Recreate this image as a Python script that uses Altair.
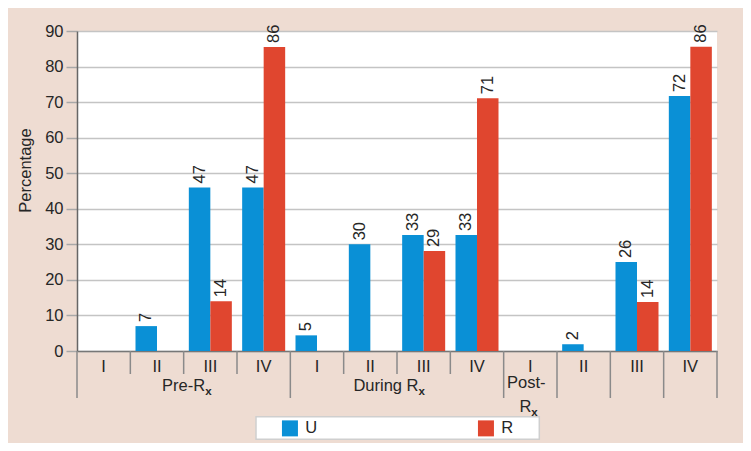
import altair as alt
import pandas as pd

# ---- data ----
groups = ["Pre", "Pre", "Pre", "Pre", "During", "During", "During", "During", "Post", "Post", "Post", "Post"]
stages = ["I", "II", "III", "IV", "I", "II", "III", "IV", "I", "II", "III", "IV"]
u_heights = [None, 7.0, 46.0, 46.0, 4.4, 30.0, 32.6, 32.6, None, 1.9, 25.0, 71.7]
r_heights = [None, None, 14.0, 85.5, None, None, 28.1, 71.1, None, None, 13.8, 85.6]
u_labels = [None, "7", "47", "47", "5", "30", "33", "33", None, "2", "26", "72"]
r_labels = [None, None, "14", "86", None, None, "29", "71", None, None, "14", "86"]
y_ticks = [0, 10, 20, 30, 40, 50, 60, 70, 80, 90]
series = ["U", "R"]
long_dividers = [0, 4, 8, 9, 10, 11]
short_dividers = [1, 2, 3, 5, 6, 7]

BLUE = "#0a90d6"
RED = "#e0462f"
BG = "#eedcd2"
FONT = "Liberation Sans, Arial, Helvetica, sans-serif"
TXT = "#262626"
FS = 16.5

cats = [f"{g}|{s}" for g, s in zip(groups, stages)]

rows = []
for i, c in enumerate(cats):
    for s, h, lab in (("U", u_heights[i], u_labels[i]), ("R", r_heights[i], r_labels[i])):
        if h is not None:
            rows.append({"cat": c, "series": s, "value": h, "label": lab})
bars_df = pd.DataFrame(rows)

xscale = alt.Scale(domain=cats, paddingInner=0, paddingOuter=0)
x_axis = alt.Axis(labels=False, ticks=False, title=None, grid=False,
                  domainColor="#777777", domainWidth=1.5)
x_enc = alt.X("cat:N", scale=xscale, axis=x_axis)
xoff = alt.XOffset("series:N", scale=alt.Scale(domain=series, paddingInner=0, paddingOuter=0.24))
y_axis = alt.Axis(values=y_ticks, title="Percentage", labelOverlap=False,
                  titleFont=FONT, titleFontSize=FS, titleFontWeight="normal", titleColor=TXT,
                  titlePadding=11, titleY=139, labelFont=FONT, labelFontSize=FS, labelColor=TXT,
                  labelPadding=3, tickSize=11, tickColor="#a8a8a8", tickWidth=1.5,
                  gridColor="#c4c4c4", gridWidth=1.5, domainColor="#666666", domainWidth=1.5)
y_enc = alt.Y("value:Q", scale=alt.Scale(domain=[0, 90], nice=False), axis=y_axis)

base = alt.Chart(bars_df)

bars = base.mark_bar().encode(
    x=x_enc,
    xOffset=xoff,
    y=y_enc,
    color=alt.Color("series:N", scale=alt.Scale(domain=series, range=[BLUE, RED]),
                    legend=alt.Legend(orient="none", legendX=204.7, legendY=389, direction="horizontal",
                                      title=None, symbolType="square", symbolSize=256,
                                      symbolStrokeWidth=0, labelFont=FONT, labelFontSize=FS,
                                      labelColor=TXT, labelOffset=7, columnPadding=160, padding=0)),
)

labels = base.mark_text(angle=270, align="left", baseline="middle", dx=4,
                        font=FONT, fontSize=FS, color=TXT).encode(
    x=x_enc,
    xOffset=xoff,
    y=y_enc,
    text="label:N",
)

# category dividers below the plot
cat_df = pd.DataFrame({"cat": cats, "stage": stages})
short_df = pd.DataFrame({"cat": [cats[i] for i in short_dividers]})
long_df = pd.DataFrame({"cat": [cats[i] for i in long_dividers]})
end_df = pd.DataFrame({"cat": [cats[-1]]})

rule_style = dict(color="#8a8a8a", strokeWidth=1.5)
short_rules = alt.Chart(short_df).mark_rule(**rule_style).encode(
    x=alt.X("cat:N", scale=xscale, axis=x_axis, bandPosition=0), y=alt.value(320), y2=alt.value(343))
long_rules = alt.Chart(long_df).mark_rule(**rule_style).encode(
    x=alt.X("cat:N", scale=xscale, axis=x_axis, bandPosition=0), y=alt.value(320), y2=alt.value(367))
end_rule = alt.Chart(end_df).mark_rule(**rule_style).encode(
    x=alt.X("cat:N", scale=xscale, axis=x_axis, bandPosition=1), y=alt.value(320), y2=alt.value(367))

stage_text = alt.Chart(cat_df).mark_text(font=FONT, fontSize=FS, color=TXT, baseline="alphabetic").encode(
    x=x_enc, y=alt.value(341), text="stage:N")

grp_df = pd.DataFrame({"cat": ["Pre|III", "During|III"], "main": ["Pre-R", "During R"], "sub": ["x", "x"]})
grp_main = alt.Chart(grp_df).mark_text(font=FONT, fontSize=FS, color=TXT, align="right",
                                       baseline="alphabetic", dx=21.5).encode(
    x=alt.X("cat:N", scale=xscale, axis=x_axis, bandPosition=0), y=alt.value(359.5), text="main:N")
grp_sub = alt.Chart(grp_df).mark_text(font=FONT, fontSize=11.5, fontWeight="bold", color=TXT, align="left",
                                      baseline="alphabetic", dx=21.5).encode(
    x=alt.X("cat:N", scale=xscale, axis=x_axis, bandPosition=0), y=alt.value(363.5), text="sub:N")

post_df = pd.DataFrame({"cat": ["Post|I"], "l1": ["Post-"], "l2": ["R"], "sub": ["x"]})
post_l1 = alt.Chart(post_df).mark_text(font=FONT, fontSize=FS, color=TXT, align="center",
                                       baseline="alphabetic", dx=-4).encode(
    x=x_enc, y=alt.value(357), text="l1:N")
post_l2 = alt.Chart(post_df).mark_text(font=FONT, fontSize=FS, color=TXT, align="right",
                                       baseline="alphabetic", dx=1).encode(
    x=x_enc, y=alt.value(381), text="l2:N")
post_sub = alt.Chart(post_df).mark_text(font=FONT, fontSize=11.5, fontWeight="bold", color=TXT, align="left",
                                        baseline="alphabetic", dx=1).encode(
    x=x_enc, y=alt.value(385), text="sub:N")

legend_box = alt.Chart(pd.DataFrame({"k": [0]})).mark_rect(fill="white", stroke="#cfcfcf", strokeWidth=1.5).encode(
    x=alt.value(179), x2=alt.value(462.3), y=alt.value(385.7), y2=alt.value(408.3))

chart = alt.layer(
    legend_box, bars, labels, short_rules, long_rules, end_rule, stage_text,
    grp_main, grp_sub, post_l1, post_l2, post_sub,
).properties(
    width=640, height=320,
    autosize=alt.AutoSizeParams(type="none"),
    padding={"left": 69, "top": 23, "right": 26, "bottom": 92},
    background=BG,
).configure_view(fill="white", stroke=None)

chart.save("out.html", embed_options={"renderer": "svg", "actions": False})
